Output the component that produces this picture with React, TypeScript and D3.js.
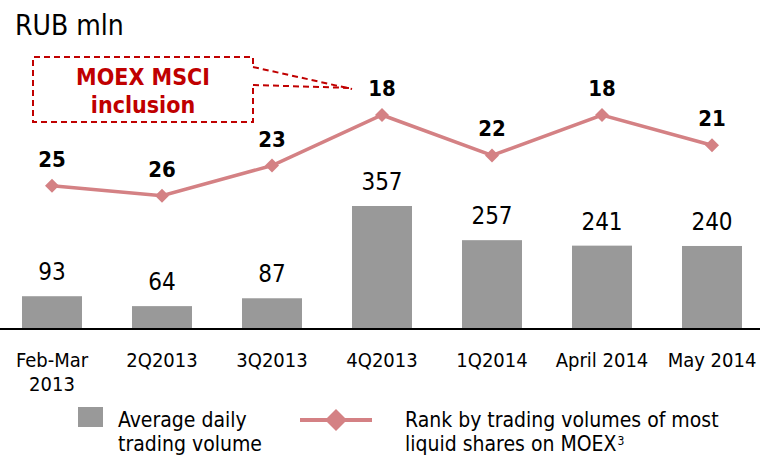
import React from "react";
import * as d3 from "d3";

const categories = ["Feb-Mar\n2013", "2Q2013", "3Q2013", "4Q2013", "1Q2014", "April 2014", "May 2014"];
const volumes = [93, 64, 87, 357, 257, 241, 240];
const ranks = [25, 26, 23, 18, 22, 18, 21];

const FONT = "'DejaVu Sans', sans-serif";
const BAR = "#999999";
const LINE = "#D48184";
const RED = "#C00000";

export default function App() {
  const W = 760, H = 455;
  const x = d3.scalePoint<string>().domain(categories).range([52, 712]);
  const yBar = d3.scaleLinear().domain([0, 357]).range([328, 206]);
  const yRank = d3.scaleLinear().domain([18, 26]).range([115, 195.8]);
  const barW = 60;
  const line = d3.line<number>().x((_, i) => x(categories[i])!).y((d) => yRank(d));
  const diamond = (cx: number, cy: number, r: number) =>
    `M${cx},${cy - r}L${cx + r},${cy}L${cx},${cy + r}L${cx - r},${cy}Z`;

  return (
    <svg width={W} height={H} style={{ position: "absolute", left: 0, top: 0, background: "#fff", fontStretch: "condensed" }} fontFamily={FONT}>
      <text x={15} y={35} fontSize={28} fill="#000">RUB mln</text>

      {volumes.map((v, i) => (
        <g key={"b" + i}>
          <rect x={x(categories[i])! - barW / 2} y={yBar(v)} width={barW} height={yBar(0) - yBar(v)} fill={BAR} />
          <text x={x(categories[i])!} y={yBar(v) - 16} textAnchor="middle" fontSize={24} fill="#000">{v}</text>
        </g>
      ))}
      <line x1={0} x2={W} y1={yBar(0) + 1} y2={yBar(0) + 1} stroke="#000" strokeWidth={2} />

      <path d={line(ranks)!} fill="none" stroke={LINE} strokeWidth={3.5} />
      {ranks.map((r, i) => (
        <g key={"r" + i}>
          <path d={diamond(x(categories[i])!, yRank(r), 7)} fill={LINE} />
          <text x={x(categories[i])!} y={yRank(r) - 19} textAnchor="middle" fontSize={22} fontWeight="bold" fill="#000">{r}</text>
        </g>
      ))}

      {categories.map((c, i) => (
        <text key={"c" + i} x={x(c)!} y={367} textAnchor="middle" fontSize={20} fill="#000">
          {c.split("\n").map((s, j) => (
            <tspan key={j} x={x(c)!} dy={j === 0 ? 0 : 24}>{s}</tspan>
          ))}
        </text>
      ))}

      {/* callout */}
      <g fill="none" stroke={RED} strokeWidth={2} strokeDasharray="6,4">
        <path d="M253,64 L253,57 L33,57 L33,122 L253,122 L253,85" />
        <path d="M253,67 L352,89" />
        <path d="M253,85 L353,88" />
      </g>
      <text x={143} y={85} textAnchor="middle" fontSize={23} fontWeight="bold" fill={RED}>MOEX MSCI</text>
      <text x={143} y={113} textAnchor="middle" fontSize={23} fontWeight="bold" fill={RED}>inclusion</text>

      {/* legend */}
      <rect x={78} y={407} width={25} height={20} fill={BAR} />
      <text x={118} y={427} fontSize={21} fill="#000">Average daily</text>
      <text x={118} y={451} fontSize={21} fill="#000">trading volume</text>
      <line x1={300} x2={372} y1={420} y2={420} stroke={LINE} strokeWidth={4} />
      <path d={diamond(336, 420, 11)} fill={LINE} />
      <text x={405} y={427} fontSize={21} fill="#000">Rank by trading volumes of most</text>
      <text x={405} y={451} fontSize={21} fill="#000">liquid shares on MOEX<tspan dx={1} dy={-6} fontSize={12}>3</tspan></text>
    </svg>
  );
}
